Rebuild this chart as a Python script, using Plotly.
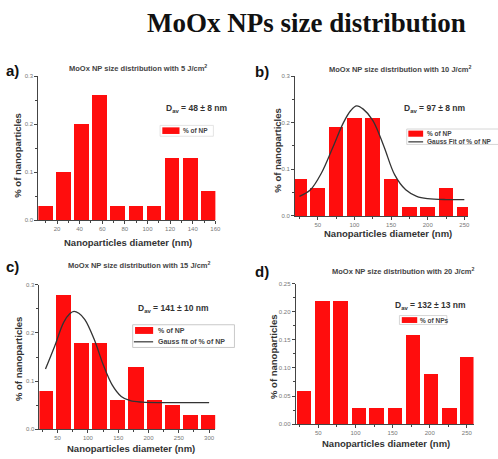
import plotly.graph_objects as go

W, H = 498, 459

# ---------------- data ----------------
a_centers = [10, 26, 42, 58, 74, 90, 106, 122, 138, 154]
a_vals = [0.03, 0.10, 0.20, 0.26, 0.03, 0.03, 0.03, 0.13, 0.13, 0.06]

b_centers = [25, 50, 75, 100, 125, 150, 175, 200, 225, 250]
b_vals = [0.08, 0.06, 0.19, 0.21, 0.21, 0.08, 0.02, 0.02, 0.06, 0.02]
b_fit_x = [25, 40, 55, 70, 85, 95, 103, 112, 125, 140, 155, 170, 185, 200, 225, 250]
b_fit_y = [0.042, 0.056, 0.092, 0.145, 0.200, 0.226, 0.236, 0.229, 0.205, 0.150, 0.088,
           0.056, 0.042, 0.037, 0.035, 0.035]

c_centers = [30, 60, 90, 120, 150, 180, 210, 240, 270, 300]
c_vals = [0.08, 0.28, 0.18, 0.18, 0.06, 0.13, 0.06, 0.05, 0.03, 0.03]
c_fit_x = [30, 45, 60, 70, 77, 85, 95, 110, 125, 140, 155, 170, 190, 220, 260, 300]
c_fit_y = [0.125, 0.172, 0.222, 0.240, 0.245, 0.241, 0.228, 0.188, 0.135, 0.092, 0.068,
           0.059, 0.056, 0.055, 0.055, 0.055]

d_centers = [30.5, 55, 79.5, 104, 128, 152.5, 177, 201.5, 226, 250]
d_vals = [0.06, 0.22, 0.22, 0.03, 0.03, 0.03, 0.16, 0.09, 0.03, 0.12]

main_title = "MoOx NPs size distribution"
panel_letters = ["a)", "b)", "c)", "d)"]
panel_titles = ["MoOx NP size distribution with 5 J/cm<sup>2</sup>",
                "MoOx NP size distribution with 10 J/cm<sup>2</sup>",
                "MoOx NP size distribution with 15 J/cm<sup>2</sup>",
                "MoOx NP size distribution with 20 J/cm<sup>2</sup>"]
dav_texts = ["D<sub>av</sub> = 48 ± 8 nm", "D<sub>av</sub> = 97 ± 8 nm",
             "D<sub>av</sub> = 141 ± 10 nm", "D<sub>av</sub> = 132 ± 13 nm"]
xlab = "Nanoparticles diameter (nm)"
ylab = "% of nanoparticles"

RED = "#ff0d0d"
AX = "#444444"
SANS = "Liberation Sans, Arial, sans-serif"


def px(x):
    return x / W


def py(y):
    return 1 - y / H


fig = go.Figure()

# panels: (xaxis name, yaxis name, domain x px, domain y px, xrange, yrange, xdtick, ydtick, yfmt, width)
panels = [
    ("x", "y", (38.8, 218.0), (74, 220), [3.5, 160], [0, 0.3], 20, 0.1, ".1f", 13),
    ("x2", "y2", (298.7, 473.7), (74, 215.7), [19, 255], [0, 0.3], 50, 0.1, ".1f", 20),
    ("x3", "y3", (39.9, 217.8), (285.7, 431.7), [20, 310], [0, 0.3], 50, 0.1, ".1f", 25),
    ("x4", "y4", (299.3, 479.3), (284.3, 426.7), [19.5, 259], [0, 0.25], 50, 0.05, ".2f", 19.5),
]
bars = [(a_centers, a_vals), (b_centers, b_vals), (c_centers, c_vals), (d_centers, d_vals)]

layout_axes = {}
for i, (p, (cx, cv)) in enumerate(zip(panels, bars)):
    xa, ya, dx, dy, xr, yr, xdt, ydt, yfmt, bw = p
    fig.add_trace(go.Bar(x=cx, y=cv, width=bw, marker=dict(color=RED, line=dict(width=0)),
                         xaxis=xa, yaxis=ya, showlegend=False))
    xkey = "xaxis" if xa == "x" else "xaxis" + xa[1:]
    ykey = "yaxis" if ya == "y" else "yaxis" + ya[1:]
    layout_axes[xkey] = dict(domain=[px(dx[0]), px(dx[1])], range=xr, anchor=ya,
                             showline=True, linecolor=AX, linewidth=1, showgrid=False,
                             zeroline=False, ticks="outside", ticklen=3, tickcolor=AX,
                             dtick=xdt, tick0=0,
                             minor=dict(ticks="outside", ticklen=2, tickcolor=AX, dtick=xdt / 2),
                             tickfont=dict(size=6, color="#777777", family=SANS))
    layout_axes[ykey] = dict(domain=[py(dy[1]), py(dy[0])], range=yr, anchor=xa,
                             showline=True, linecolor=AX, linewidth=1, showgrid=False,
                             zeroline=False, ticks="outside", ticklen=3, tickcolor=AX,
                             dtick=ydt, tick0=0, tickformat=yfmt,
                             minor=dict(ticks="outside", ticklen=2, tickcolor=AX, dtick=ydt / 2),
                             tickfont=dict(size=6, color="#777777", family=SANS))

fig.add_trace(go.Scatter(x=b_fit_x, y=b_fit_y, mode="lines", line=dict(color="#333333", width=1.3,
                         shape="spline"), xaxis="x2", yaxis="y2", showlegend=False))
fig.add_trace(go.Scatter(x=c_fit_x, y=c_fit_y, mode="lines", line=dict(color="#333333", width=1.3,
                         shape="spline"), xaxis="x3", yaxis="y3", showlegend=False))

ann = []


def text(x, y, t, size, color="#333333", bold=True, xa="center", ya="middle", angle=0, family=SANS):
    ann.append(dict(x=px(x), y=py(y), xref="paper", yref="paper", text=("<b>%s</b>" % t) if bold else t,
                    showarrow=False, xanchor=xa, yanchor=ya, textangle=angle,
                    font=dict(size=size, color=color, family=family)))


text(310, 20, main_title, 27, color="#111111", family="Liberation Serif, Times New Roman, serif")

letter_pos = [(4, 68), (256, 69), (4, 267), (256, 272)]
title_pos = [(140, 66), (405, 67), (141, 265), (408, 272)]
dav_pos = [(166, 106.5), (407, 107), (138, 310), (398, 306)]
xlab_pos = [(130, 242.5), (393, 234), (133, 451), (391, 446)]
ylab_pos = [(18, 155), (280, 150), (18, 361), (277, 359)]

for i in range(4):
    text(letter_pos[i][0], letter_pos[i][1], panel_letters[i], 15, color="#111111", xa="left")
    text(title_pos[i][0], title_pos[i][1], panel_titles[i], 7.5, color="#444444")
    text(dav_pos[i][0], dav_pos[i][1], dav_texts[i], 8.5, color="#333333", xa="left")
    text(xlab_pos[i][0], xlab_pos[i][1], xlab, 9.5, color="#333333")
    text(ylab_pos[i][0], ylab_pos[i][1], ylab, 9.5, color="#333333", angle=-90)

shapes = []


def rect(x0, y0, x1, y1, fill=None, line=None):
    shapes.append(dict(type="rect", xref="paper", yref="paper", x0=px(x0), x1=px(x1), y0=py(y1), y1=py(y0),
                       fillcolor=fill if fill else "rgba(0,0,0,0)",
                       line=dict(width=0.8 if line else 0, color=line if line else "rgba(0,0,0,0)")))


def hline(x0, x1, y):
    shapes.append(dict(type="line", xref="paper", yref="paper", x0=px(x0), x1=px(x1), y0=py(y), y1=py(y),
                       line=dict(width=1.2, color="#333333")))


# legend a
rect(162, 124, 216, 135, line="#dddddd")
rect(164.3, 126, 181.7, 132.7, fill=RED)
text(183, 129.5, "% of NP", 6.5, color="#444444", xa="left")
# legend b
rect(411.7, 127.7, 520, 143.3, line="#cccccc")
rect(413.3, 129.3, 428.3, 135.5, fill=RED)
text(430, 132.2, "% of NP", 6.5, color="#444444", xa="left")
hline(413.3, 428.3, 140.7)
text(430, 140.7, "Gauss Fit of % of NP", 6.5, color="#444444", xa="left")
# legend c
rect(134.3, 326, 237.3, 349, line="#bbbbbb")
rect(136.7, 328.3, 155, 335.3, fill=RED)
text(157.7, 331.8, "% of NP", 7, color="#444444", xa="left")
hline(135.5, 155, 343.3)
text(157.7, 343.3, "Gauss fit of % of NP", 7, color="#444444", xa="left")
# legend d
rect(404.3, 316.7, 452.3, 325.7, line="#cccccc")
rect(406.7, 318.3, 422.3, 324.2, fill=RED)
text(423.3, 321.2, "% of NPs", 6.5, color="#444444", xa="left")

fig.update_layout(width=W, height=H, margin=dict(l=0, r=0, t=0, b=0),
                  paper_bgcolor="white", plot_bgcolor="white", bargap=0,
                  annotations=ann, shapes=shapes, showlegend=False, **layout_axes)

fig.write_html("out.html", config={"displayModeBar": False})
